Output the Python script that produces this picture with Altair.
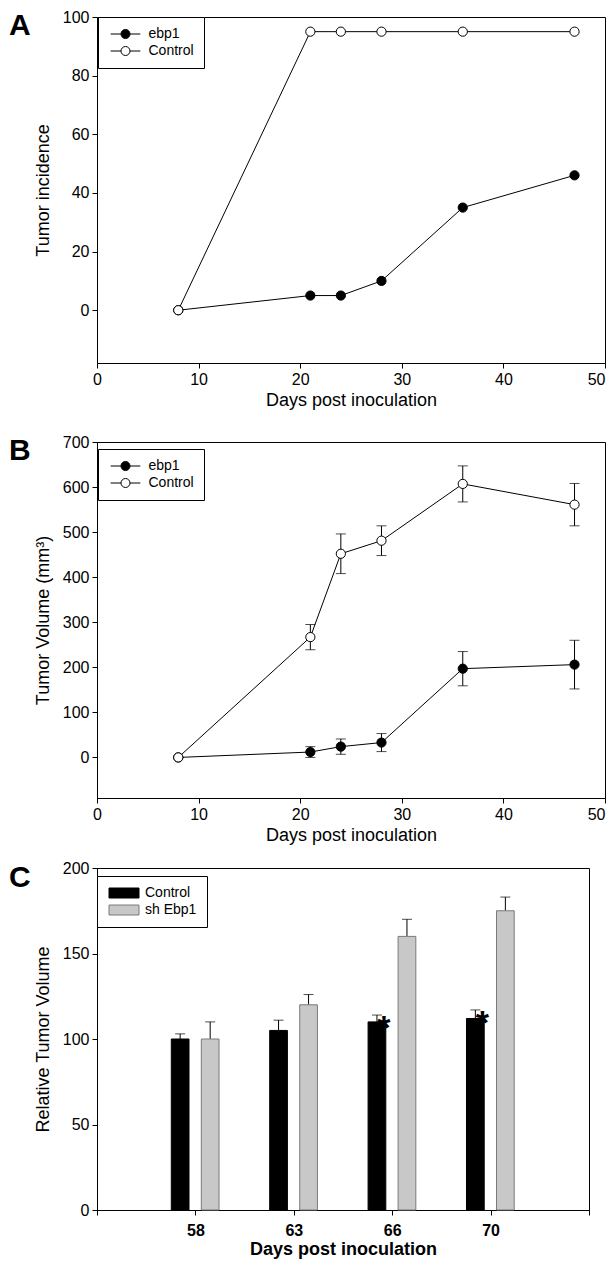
import altair as alt
import pandas as pd

# ---------------- data ----------------
# Panel A: tumor incidence
days_a = [8, 21, 24, 28, 36, 47]
incidence_ebp1 = [0, 5, 5, 10, 35, 46]
incidence_control = [0, 95, 95, 95, 95, 95]

# Panel B: tumor volume (mm3) with error
days_b = [8, 21, 24, 28, 36, 47]
volume_ebp1 = [0, 12, 24, 33, 197, 206]
volume_ebp1_err = [0, 12, 17, 20, 38, 54]
volume_control = [0, 267, 452, 481, 607, 561]
volume_control_err = [0, 28, 44, 33, 40, 47]

# Panel C: relative tumor volume
days_c = ["58", "63", "66", "70"]
rel_control = [100, 105, 110, 112]
rel_control_err = [3, 6, 4, 5]
rel_sh = [100, 120, 160, 175]
rel_sh_err = [10, 6, 10, 8]
star_days = ["66", "70"]

series_ab = ["ebp1", "Control"]
series_c = ["Control", "sh Ebp1"]

FONT = "Liberation Sans"

# ---------------- tables ----------------
df_a = pd.DataFrame({
    "day": days_a + days_a,
    "value": incidence_ebp1 + incidence_control,
    "series": [series_ab[0]] * len(days_a) + [series_ab[1]] * len(days_a),
})

df_b = pd.DataFrame({
    "day": days_b + days_b,
    "value": volume_ebp1 + volume_control,
    "err": volume_ebp1_err + volume_control_err,
    "series": [series_ab[0]] * len(days_b) + [series_ab[1]] * len(days_b),
})
df_b["lo"] = df_b["value"] - df_b["err"]
df_b["hi"] = df_b["value"] + df_b["err"]

n = len(days_c)
df_c = pd.DataFrame({
    "day": days_c + days_c,
    "pos": list(range(1, n + 1)) * 2,
    "value": rel_control + rel_sh,
    "err": rel_control_err + rel_sh_err,
    "series": [series_c[0]] * n + [series_c[1]] * n,
})
df_c["top"] = df_c["value"] + df_c["err"]
df_c["star"] = [(d in star_days) for d in days_c] + [False] * n

# legend glyphs (unit = symbol radius): line with a circle, and a wide box
LINE_SYMBOL = "M-3.3,0H-1M1,0H3.3M-1,0A1,1,0,1,1,1,0A1,1,0,1,1,-1,0Z"
RECT_SYMBOL = "M-3,-1H3V1H-3Z"


def letter(ch, dy):
    return alt.Chart(pd.DataFrame({"t": [ch]})).mark_text(
        fontSize=30, fontWeight="bold", font=FONT, align="left", baseline="top", color="black"
    ).encode(x=alt.value(-88), y=alt.value(dy), text="t:N")


def line_panel(df, ydom, yvals, ytitle, ch, with_err, height, letter_dy, legend_y):
    x = alt.X(
        "day:Q",
        scale=alt.Scale(domain=[0, 50], nice=False, zero=False),
        axis=alt.Axis(
            values=[0, 10, 20, 30, 40, 50],
            title="Days post inoculation",
            labelAlign={"condition": {"test": "datum.value == 50", "value": "right"}, "value": "center"},
        ),
    )
    y = alt.Y(
        "value:Q",
        scale=alt.Scale(domain=ydom, nice=False, zero=False),
        axis=alt.Axis(values=yvals, title=ytitle),
    )
    base = alt.Chart(df)
    layers = [
        base.mark_line(color="black", strokeWidth=1).encode(x=x, y=y, detail="series:N")
    ]
    if with_err:
        layers.append(base.mark_rule(color="black", strokeWidth=1).encode(x=x, y="lo:Q", y2="hi:Q"))
        layers.append(base.mark_tick(orient="horizontal", color="black", size=10, thickness=1).encode(x=x, y="lo:Q"))
        layers.append(base.mark_tick(orient="horizontal", color="black", size=10, thickness=1).encode(x=x, y="hi:Q"))
    layers.append(
        base.mark_point(filled=True, size=85, stroke="black", strokeWidth=1, opacity=1).encode(
            x=x,
            y=y,
            fill=alt.Fill(
                "series:N",
                scale=alt.Scale(domain=series_ab, range=["black", "white"]),
                legend=alt.Legend(
                    title=None, orient="none", legendX=1, legendY=legend_y,
                    symbolType=LINE_SYMBOL, symbolSize=81, symbolOffset=10.5,
                    symbolStrokeColor="black", symbolStrokeWidth=1,
                    labelFontSize=14, labelFont=FONT, labelOffset=16,
                    strokeColor="black", fillColor="white", padding=10, rowPadding=3,
                ),
            ),
        )
    )
    layers.append(letter(ch, letter_dy))
    return alt.layer(*layers).properties(width=508, height=height)


panel_a = line_panel(df_a, [-18, 100], [0, 20, 40, 60, 80, 100], "Tumor incidence", "A", False, 346, -6, 0)
panel_b = line_panel(
    df_b, [-90, 700], [0, 100, 200, 300, 400, 500, 600, 700], "Tumor Volume (mm³)", "B", True, 356, -6, 7
)

# Panel C
label_expr = "[" + ",".join("'%s'" % d for d in days_c) + "][datum.value - 1] || ''"
xc_axis = alt.Axis(
    values=[0, 1, 2, 3, 4, 5], labelExpr=label_expr, title="Days post inoculation",
    labelFontWeight="bold", titleFontWeight="bold", labelFontSize=16, titleFontSize=18,
    labelPadding=7, titlePadding=2,
)
xscale_c = alt.Scale(domain=[0, 5], nice=False, zero=False)
yscale_c = alt.Scale(domain=[0, 200], nice=False)

base_c = alt.Chart(df_c).transform_calculate(
    x0="datum.pos + (datum.series == 'Control' ? -0.245 : 0.06)"
).transform_calculate(
    x1="datum.x0 + 0.18", xc="datum.x0 + 0.09"
)

bars = base_c.mark_bar(strokeWidth=1).encode(
    x=alt.X("x0:Q", scale=xscale_c, axis=xc_axis),
    x2="x1:Q",
    y=alt.Y("value:Q", scale=yscale_c,
            axis=alt.Axis(values=[0, 50, 100, 150, 200], title="Relative Tumor Volume")),
    y2=alt.datum(0),
    fill=alt.Fill(
        "series:N",
        scale=alt.Scale(domain=series_c, range=["black", "#c8c8c8"]),
        legend=alt.Legend(
            title=None, orient="none", legendX=0, legendY=8,
            symbolType=RECT_SYMBOL, symbolSize=100, symbolOffset=10,
            symbolStrokeColor="#777777", symbolStrokeWidth=1,
            labelFontSize=14, labelFont=FONT, labelOffset=14,
            strokeColor="black", fillColor="white", padding=10, rowPadding=3,
        ),
    ),
    stroke=alt.Stroke("series:N", scale=alt.Scale(domain=series_c, range=["black", "#7a7a7a"]), legend=None),
)
err_c = base_c.mark_rule(color="black", strokeWidth=1).encode(
    x=alt.X("xc:Q", scale=xscale_c), y=alt.Y("value:Q", scale=yscale_c), y2="top:Q"
)
cap_c = base_c.mark_tick(orient="horizontal", color="black", size=10, thickness=1).encode(
    x=alt.X("xc:Q", scale=xscale_c), y=alt.Y("top:Q", scale=yscale_c)
)
stars = base_c.transform_filter("datum.star").mark_text(
    text="*", fontSize=34, fontWeight="bold", font=FONT, color="black", baseline="middle", dx=7, dy=14
).encode(x=alt.X("xc:Q", scale=xscale_c), y=alt.Y("top:Q", scale=yscale_c))

panel_c = alt.layer(err_c, cap_c, bars, stars, letter("C", -5)).properties(width=492, height=342)

top_pair = alt.vconcat(panel_a, panel_b, spacing=23).resolve_scale(
    fill="independent", stroke="independent"
).resolve_legend(fill="independent", stroke="independent")

chart = alt.vconcat(top_pair, panel_c, spacing=14).resolve_scale(
    fill="independent", stroke="independent"
).resolve_legend(
    fill="independent", stroke="independent"
).properties(
    padding={"left": 0, "top": 0, "right": 0, "bottom": 0}
).configure_view(
    stroke="black", strokeWidth=1
).configure_axis(
    domainColor="black", tickColor="black", labelColor="black", titleColor="black",
    tickSize=5, grid=False, labelFont=FONT, titleFont=FONT, titleFontWeight="normal",
    labelFontSize=16, titleFontSize=18,
).configure_axisX(
    labelPadding=3, titlePadding=4
).configure_axisY(
    labelPadding=3, titlePadding=10
)

chart.save("out.html", embed_options={"renderer": "svg", "actions": False})
